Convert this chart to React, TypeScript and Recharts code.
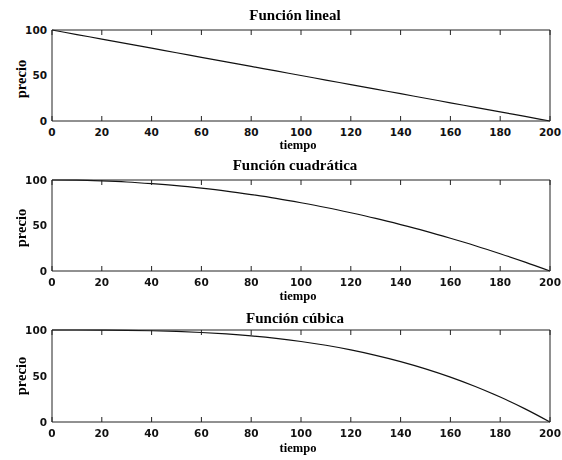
import { LineChart, Line, XAxis, YAxis } from 'recharts';

// tiempo (x) values shared by all three panels
const TIEMPO = [0, 10, 20, 30, 40, 50, 60, 70, 80, 90, 100, 110, 120, 130, 140, 150, 160, 170, 180, 190, 200];

// precio
const PRECIO_LINEAL = [100, 95, 90, 85, 80, 75, 70, 65, 60, 55, 50, 45, 40, 35, 30, 25, 20, 15, 10, 5, 0];
const PRECIO_CUADRATICA = [100, 99.8, 99, 97.8, 96, 93.8, 91, 87.8, 84, 79.8, 75, 69.8, 64, 57.8, 51, 43.8, 36, 27.8, 19, 9.8, 0];
const PRECIO_CUBICA = [100, 100, 99.9, 99.7, 99.2, 98.4, 97.3, 95.7, 93.6, 90.9, 87.5, 83.4, 78.4, 72.5, 65.7, 57.8, 48.8, 38.6, 27.1, 14.3, 0];

const X_TICKS = [0, 20, 40, 60, 80, 100, 120, 140, 160, 180, 200];
const Y_TICKS = [0, 50, 100];

const TITLES = ['Función lineal', 'Función cuadrática', 'Función cúbica'];

const tickStyle = { fontFamily: 'DejaVu Sans', fontSize: 10.5, fontWeight: 'bold', fill: '#111' };
const AXIS = '#222';
const SERIF = '"Liberation Serif", "Times New Roman", serif';

// tick marks only, no label
const NoLabel = () => <g />;

interface PanelProps {
  values: number[];
  title: string;
  top: number;
  height: number;
  marginTop: number;
  marginBottom: number;
  titleY: number;
  labelY: number;
  precioY: number;
}

function Panel({ values, title, top, height, marginTop, marginBottom, titleY, labelY, precioY }: PanelProps) {
  const data = TIEMPO.map((t, i) => ({ tiempo: t, precio: values[i] }));
  const xCommon = { dataKey: 'tiempo', type: 'number' as const, domain: [0, 200], ticks: X_TICKS, interval: 0 as const, stroke: AXIS };
  const yCommon = { type: 'number' as const, domain: [0, 100], ticks: Y_TICKS, interval: 0 as const, stroke: AXIS };
  return (
    <div style={{ position: 'absolute', left: 0, top, width: 562, height }}>
      <LineChart width={562} height={height} data={data} margin={{ top: marginTop, right: 12, bottom: marginBottom, left: 0 }}>
        {/* labelled axes */}
        <XAxis xAxisId="b" {...xCommon} height={20} tickLine={false} tickSize={0} tickMargin={8} tick={tickStyle} />
        <YAxis yAxisId="l" {...yCommon} width={52} tickLine={false} tickSize={0} tickMargin={5} tick={tickStyle} />
        {/* inward tick marks and the rest of the frame */}
        <XAxis xAxisId="bm" {...xCommon} mirror height={6} tickSize={5} axisLine={false} tick={NoLabel} />
        <XAxis xAxisId="t" {...xCommon} orientation="top" mirror height={6} tickSize={5} tick={NoLabel} />
        <YAxis yAxisId="lm" {...yCommon} mirror width={6} tickSize={5} axisLine={false} tick={NoLabel} />
        <YAxis yAxisId="r" {...yCommon} orientation="right" mirror width={6} tickSize={5} tick={NoLabel} />
        <Line
          xAxisId="b"
          yAxisId="l"
          dataKey="precio"
          type="monotone"
          stroke="#111"
          strokeWidth={1.2}
          dot={false}
          isAnimationActive={false}
        />
      </LineChart>
      <div
        style={{
          position: 'absolute', left: 0, width: 590, top: titleY - top - 9, textAlign: 'center',
          fontFamily: SERIF, fontWeight: 'bold', fontSize: 15, lineHeight: '18px', color: '#000',
        }}
      >
        {title}
      </div>
      <div
        style={{
          position: 'absolute', left: 0, width: 596, top: labelY - top - 8, textAlign: 'center',
          fontFamily: SERIF, fontWeight: 'bold', fontSize: 12.5, lineHeight: '15px', color: '#000',
        }}
      >
        tiempo
      </div>
      <div
        style={{
          position: 'absolute', left: 21 - 30, width: 60, top: precioY - top - 8, textAlign: 'center',
          fontFamily: SERIF, fontWeight: 'bold', fontSize: 14.5, lineHeight: '16px', color: '#000',
          transform: 'rotate(-90deg)',
        }}
      >
        precio
      </div>
    </div>
  );
}

export default function App() {
  return (
    <div style={{ position: 'fixed', left: 0, top: 0, width: 562, height: 460, background: '#fff' }}>
      <Panel values={PRECIO_LINEAL} title={TITLES[0]} top={0} height={150} marginTop={30} marginBottom={9} titleY={15} labelY={146} precioY={79} />
      <Panel values={PRECIO_CUADRATICA} title={TITLES[1]} top={150} height={150} marginTop={30} marginBottom={9} titleY={165} labelY={297} precioY={228} />
      <Panel values={PRECIO_CUBICA} title={TITLES[2]} top={305} height={155} marginTop={25} marginBottom={18} titleY={318} labelY={449} precioY={376} />
    </div>
  );
}
